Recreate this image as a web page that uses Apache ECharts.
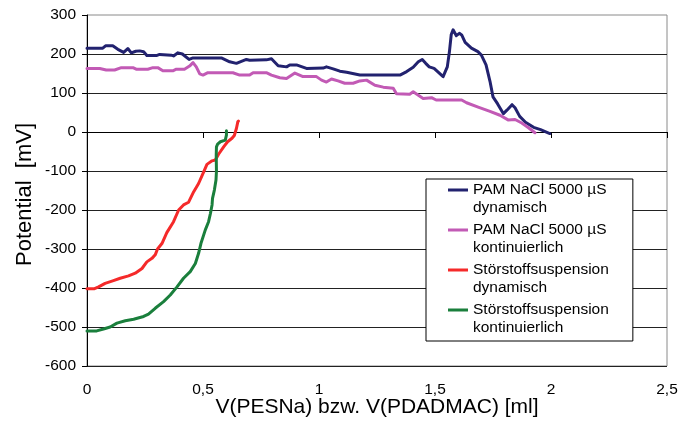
<!DOCTYPE html>
<html>
<head>
<meta charset="utf-8">
<script src="https://cdn.jsdelivr.net/npm/echarts@6/dist/echarts.min.js"></script>
<style>
  html, body { margin: 0; padding: 0; background: #fff; }
  #chart { width: 679px; height: 421px; }
</style>
</head>
<body>
<div id="chart"></div>
<script>
// Titration curves: potential [mV] against added titrant volume [ml]

const seriesNames = [
  'PAM NaCl 5000 µS\ndynamisch',
  'PAM NaCl 5000 µS\nkontinuierlich',
  'Störstoffsuspension\ndynamisch',
  'Störstoffsuspension\nkontinuierlich'
];

const xTickLabels = ['0', '0,5', '1', '1,5', '2', '2,5'];
const yTickLabels = ['-600', '-500', '-400', '-300', '-200', '-100', '0', '100', '200', '300'];

// [volume ml, potential mV]
const pamDynamisch = [
  [0, 215], [0.068, 215], [0.08, 221], [0.111, 221], [0.133, 212], [0.158, 204],
  [0.176, 214], [0.191, 203], [0.21, 207], [0.227, 208], [0.244, 206], [0.258, 196],
  [0.299, 196], [0.313, 199], [0.363, 197], [0.373, 195], [0.392, 203], [0.411, 200],
  [0.44, 186], [0.457, 190], [0.579, 190], [0.615, 180], [0.644, 176], [0.687, 186],
  [0.701, 184], [0.773, 185], [0.795, 188], [0.824, 170], [0.86, 167], [0.874, 172],
  [0.903, 172], [0.946, 163], [1.018, 164], [1.032, 167], [1.061, 162], [1.09, 156],
  [1.119, 153], [1.176, 146], [1.349, 146], [1.378, 155], [1.406, 166], [1.428, 180],
  [1.445, 186], [1.46, 176], [1.475, 167], [1.496, 163], [1.535, 142], [1.553, 167],
  [1.562, 205], [1.57, 250], [1.578, 262], [1.592, 247], [1.605, 253], [1.615, 249],
  [1.63, 230], [1.657, 215], [1.685, 206], [1.70, 197], [1.72, 172], [1.737, 130],
  [1.75, 90], [1.77, 72], [1.795, 47], [1.81, 56], [1.832, 70], [1.845, 62],
  [1.865, 40], [1.89, 25], [1.925, 12], [1.955, 6], [1.995, -4]
];

const pamKontinuierlich = [
  [0, 163], [0.055, 163], [0.083, 159], [0.119, 159], [0.148, 165], [0.198, 165],
  [0.212, 161], [0.262, 161], [0.284, 165], [0.305, 165], [0.327, 157], [0.37, 157],
  [0.385, 161], [0.42, 161], [0.442, 169], [0.457, 178], [0.471, 167], [0.486, 149],
  [0.5, 146], [0.521, 152], [0.629, 152], [0.658, 146], [0.701, 146], [0.716, 152],
  [0.773, 152], [0.795, 146], [0.831, 139], [0.86, 137], [0.896, 151], [0.931, 142],
  [0.989, 142], [1.011, 133], [1.032, 128], [1.054, 136], [1.082, 131], [1.111, 125],
  [1.147, 125], [1.176, 131], [1.205, 133], [1.241, 120], [1.277, 115], [1.32, 112],
  [1.334, 98], [1.391, 97], [1.406, 103], [1.449, 86], [1.485, 88], [1.505, 82],
  [1.615, 82], [1.636, 75], [1.686, 64], [1.737, 53], [1.78, 43], [1.815, 31],
  [1.845, 32], [1.874, 23], [1.903, 11], [1.931, -2]
];

const stoerDynamisch = [
  [0, -402], [0.03, -402], [0.05, -397], [0.078, -388], [0.114, -381], [0.143, -375],
  [0.179, -369], [0.208, -362], [0.237, -350], [0.258, -333], [0.28, -324], [0.294, -315],
  [0.304, -300], [0.323, -286], [0.344, -258], [0.373, -230], [0.395, -200], [0.416, -187],
  [0.438, -180], [0.46, -153], [0.481, -132], [0.503, -102], [0.517, -83], [0.539, -74],
  [0.553, -72], [0.567, -57], [0.589, -38], [0.606, -25], [0.625, -16], [0.635, -9],
  [0.644, 9], [0.65, 26], [0.653, 28]
];

const stoerKontinuierlich = [
  [0, -510], [0.042, -510], [0.071, -505], [0.1, -500], [0.129, -490], [0.165, -484],
  [0.201, -480], [0.244, -473], [0.265, -467], [0.294, -452], [0.33, -435], [0.359, -418],
  [0.388, -397], [0.416, -375], [0.445, -358], [0.467, -337], [0.481, -311], [0.491, -286],
  [0.51, -251], [0.524, -230], [0.532, -209], [0.539, -187], [0.541, -170], [0.549, -149],
  [0.556, -123], [0.558, -100], [0.557, -60], [0.558, -38], [0.563, -31], [0.575, -25],
  [0.596, -21], [0.601, -8], [0.601, 3]
];

const seriesData = [pamDynamisch, pamKontinuierlich, stoerDynamisch, stoerKontinuierlich];
const seriesColors = ['#22226f', '#c25ab5', '#f52a2a', '#1a7f3c'];

const FONT = 'Liberation Sans, Arial, sans-serif';

const chart = echarts.init(document.getElementById('chart'), null, { renderer: 'canvas' });

const option = {
  animation: false,
  backgroundColor: '#fff',
  grid: {
    left: 87, right: 12, top: 15, bottom: 55,
    outerBoundsMode: 'none',
    containLabel: false,
    show: true, borderColor: '#8a8a8a', borderWidth: 1
  },
  xAxis: {
    type: 'value', min: 0, max: 2.5, interval: 0.5,
    name: 'V(PESNa) bzw. V(PDADMAC) [ml]',
    nameLocation: 'middle', nameGap: 31, nameMoveOverlap: false,
    nameTextStyle: { fontFamily: FONT, fontSize: 21, color: '#000' },
    axisLine: { show: true, lineStyle: { color: '#000', width: 1 } },
    axisTick: { show: true, length: 6, lineStyle: { color: '#000' } },
    axisLabel: {
      margin: 16, fontFamily: FONT, fontSize: 15.5, color: '#000',
      formatter: v => xTickLabels[Math.round(v / 0.5)]
    },
    splitLine: { show: false }
  },
  yAxis: {
    type: 'value', min: -600, max: 300, interval: 100,
    name: 'Potential  [mV]',
    nameLocation: 'middle', nameGap: 51, nameRotate: 90, nameMoveOverlap: false,
    nameTextStyle: { fontFamily: FONT, fontSize: 22, color: '#000', padding: [0, 8, 0, 0] },
    axisLine: { show: true, lineStyle: { color: '#000', width: 1 } },
    axisTick: { show: true, length: 5, lineStyle: { color: '#000' } },
    axisLabel: {
      margin: 11, fontFamily: FONT, fontSize: 15.5, color: '#000',
      formatter: v => yTickLabels[Math.round((v + 600) / 100)]
    },
    splitLine: { show: true, showMaxLine: false, lineStyle: { color: '#222', width: 1 } }
  },
  legend: {
    orient: 'vertical',
    left: 426, top: 179,
    padding: [2, 24, 4, 22],
    backgroundColor: '#fff',
    borderColor: '#000', borderWidth: 1, borderRadius: 0,
    itemWidth: 20, itemHeight: 36, itemGap: 4,
    icon: 'path://M0,0H20M0,7.5H20V10.5H0ZM0,36H20',
    itemStyle: { borderWidth: 0 },
    selectedMode: false,
    textStyle: { fontFamily: FONT, fontSize: 15.5, lineHeight: 18, color: '#000' },
    data: seriesNames
  },
  series: seriesData.map((d, i) => ({
    name: seriesNames[i],
    type: 'line',
    data: d,
    showSymbol: false,
    symbol: 'none',
    color: seriesColors[i],
    lineStyle: { color: seriesColors[i], width: 3, join: 'round', cap: 'round' },
    z: 2 + i
  }))
};

chart.setOption(option);
</script>
</body>
</html>
